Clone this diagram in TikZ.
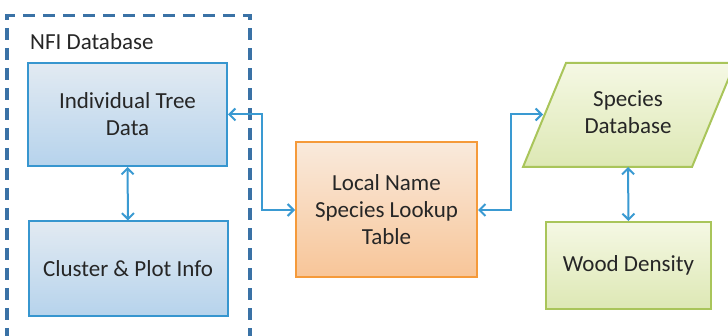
\documentclass[tikz,border=0pt]{standalone}
\usepackage{fontspec}
\setmainfont{Carlito}
\usetikzlibrary{arrows.meta,calc}
\definecolor{txt}{HTML}{262626}
\definecolor{blueTop}{HTML}{E2EAF2}
\definecolor{blueBot}{HTML}{B6D3EC}
\definecolor{blueLine}{HTML}{3796CF}
\definecolor{dashLine}{HTML}{3A72A6}
\definecolor{orTop}{HTML}{F9EADC}
\definecolor{orBot}{HTML}{F8C598}
\definecolor{orLine}{HTML}{F59A3A}
\definecolor{grTop}{HTML}{F5F8E4}
\definecolor{grBot}{HTML}{DDE8B4}
\definecolor{grLine}{HTML}{A9C55A}
\definecolor{arrowCol}{HTML}{3A9AD2}
\tikzset{
  lbl/.style={font=\fontsize{23}{27}\selectfont, text=txt, align=center, inner sep=0pt},
  bluebox/.style={draw=blueLine, line width=2pt, top color=blueTop, bottom color=blueBot, minimum width=199pt, lbl},
  orbox/.style={draw=orLine, line width=2pt, top color=orTop, bottom color=orBot, minimum width=181pt, minimum height=135pt, lbl},
  grbox/.style={draw=grLine, line width=2pt, top color=grTop, bottom color=grBot, minimum width=165pt, minimum height=87pt, lbl},
  conn/.style={draw=arrowCol, line width=2pt, {Straight Barb[length=6pt,width=12pt]}-{Straight Barb[length=6pt,width=12pt]}},
}
\begin{document}
\begin{tikzpicture}[x=1pt,y=-1pt]
\useasboundingbox (0,0) rectangle (728,336);
\clip (0,0) rectangle (728,336);
% dashed container
\draw[dashLine, line width=3.2pt, dash pattern=on 12pt off 8pt] (250,360) -- (250,15.5) -- (7,15.5) -- (7,360);
\node[lbl, anchor=west] (nfi) at (30,42) {NFI Database};
% boxes
\node[bluebox, minimum height=103pt] (tree) at (127.5,114.5) {Individual Tree\\Data};
\node[bluebox, minimum height=95pt] (clus) at (128,269) {Cluster \& Plot Info};
\node[orbox] (look) at (386.5,210) {Local Name\\Species Lookup\\Table};
% parallelogram
\path[draw=grLine, line width=2pt, top color=grTop, bottom color=grBot] (566,63) -- (735,63) -- (692,167) -- (523,167) -- cycle;
\node[lbl] (spec) at (628,112) {Species\\Database};
\coordinate (specin) at (543,114.5);
\coordinate (specbot) at (628,167);
\node[grbox] (wood) at (628.5,265.5) {Wood Density};
% connectors
\draw[conn] (tree.south) -- (clus.north);
\draw[conn] (tree.east) -| ($(tree.east)!.5!(look.west)$) |- (look.west);
\draw[conn] (look.east) -| ($(look.east)!.5!(specin)$) |- (specin);
\draw[conn] (specbot) -- (wood.north);
\end{tikzpicture}
\end{document}
